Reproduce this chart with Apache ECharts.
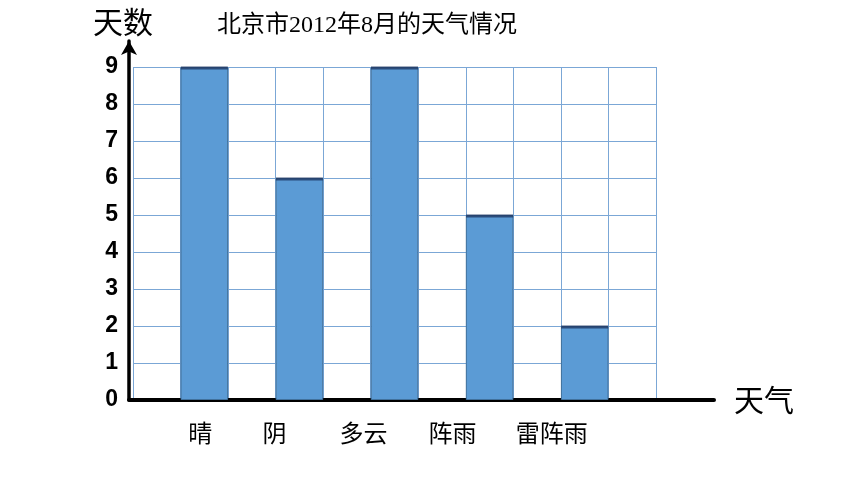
<!DOCTYPE html>
<html>
<head>
<meta charset="utf-8">
<script src="https://cdn.jsdelivr.net/npm/echarts@6/dist/echarts.min.js"></script>
<style>html,body{margin:0;padding:0;background:#fff}#c{width:860px;height:484px}</style>
</head>
<body>
<div id="c"></div>
<script>
var titleText = '北京市2012年8月的天气情况';
var yName = '天数';
var xName = '天气';
var categories = ['晴', '阴', '多云', '阵雨', '雷阵雨'];
var days = [9, 6, 9, 5, 2];
var yTicks = [0, 1, 2, 3, 4, 5, 6, 7, 8, 9];
var labelShift = [-4, -25, -31, -37, -33];

// Each weather occupies every other slot of an 11-column grid
var slotData = [], slotValues = [];
slotData.push('');
slotValues.push(null);
categories.forEach(function (c, i) {
  slotData.push({ value: c, textStyle: { padding: [0, -2 * labelShift[i], 0, 0] } });
  slotValues.push(days[i]);
  slotData.push('');
  slotValues.push(null);
});

var chart = echarts.init(document.getElementById('c'), null, { renderer: 'canvas' });
chart.setOption({
  backgroundColor: '#ffffff',
  animation: false,
  title: {
    text: titleText, left: 212, top: 9,
    textStyle: { fontFamily: '"Liberation Serif","Noto Sans CJK SC",serif', fontSize: 24, fontWeight: 'normal', color: '#000' }
  },
  grid: [
    { left: 133, right: 204, top: 67, bottom: 84 },
    { left: 129, right: 146, top: 41, bottom: 84 }
  ],
  xAxis: [
    {
      type: 'category', gridIndex: 0, data: slotData, boundaryGap: true,
      axisLine: { show: false }, axisTick: { show: false },
      axisLabel: { interval: 0, margin: 21, fontSize: 24, color: '#000', fontFamily: '"Noto Sans CJK SC",sans-serif' },
      splitLine: { show: true, interval: 0, lineStyle: { color: '#7BA7D6', width: 1 } }
    },
    {
      type: 'value', gridIndex: 1, min: 0, max: 1,
      axisLine: { show: true, lineStyle: { color: '#000', width: 4 } },
      axisTick: { show: false }, axisLabel: { show: false }, splitLine: { show: false },
      name: xName, nameLocation: 'end', nameGap: 20,
      nameTextStyle: { fontSize: 30, color: '#000', fontFamily: '"Noto Sans CJK SC",sans-serif', verticalAlign: 'middle' }
    }
  ],
  yAxis: [
    {
      type: 'value', gridIndex: 0, min: yTicks[0], max: yTicks[yTicks.length - 1], interval: 1,
      axisLine: { show: false }, axisTick: { show: false },
      axisLabel: { margin: 15, fontSize: 23, fontWeight: 'bold', color: '#000', fontFamily: '"Liberation Sans",sans-serif' },
      splitLine: { show: true, lineStyle: { color: '#7BA7D6', width: 1 } }
    },
    {
      type: 'value', gridIndex: 1, min: 0, max: 1,
      axisLine: { show: true, symbol: ['none', 'arrow'], symbolSize: [12, 14], lineStyle: { color: '#000', width: 3.5 } },
      axisTick: { show: false }, axisLabel: { show: false }, splitLine: { show: false },
      name: yName, nameLocation: 'end', nameGap: 4,
      nameTextStyle: { fontSize: 30, color: '#000', fontFamily: '"Noto Sans CJK SC",sans-serif', padding: [0, 12, 0, 0] }
    }
  ],
  series: [
    {
      type: 'bar', xAxisIndex: 0, yAxisIndex: 0, data: slotValues, barWidth: '100%',
      itemStyle: { color: '#5B9BD5', borderColor: '#41719C', borderWidth: 1 }
    },
    {
      type: 'scatter', xAxisIndex: 0, yAxisIndex: 0, data: slotValues,
      symbol: 'rect', symbolSize: [47, 3], symbolOffset: [0, 1],
      itemStyle: { color: '#1F3864' }, z: 5
    }
  ]
});
</script>
</body>
</html>
